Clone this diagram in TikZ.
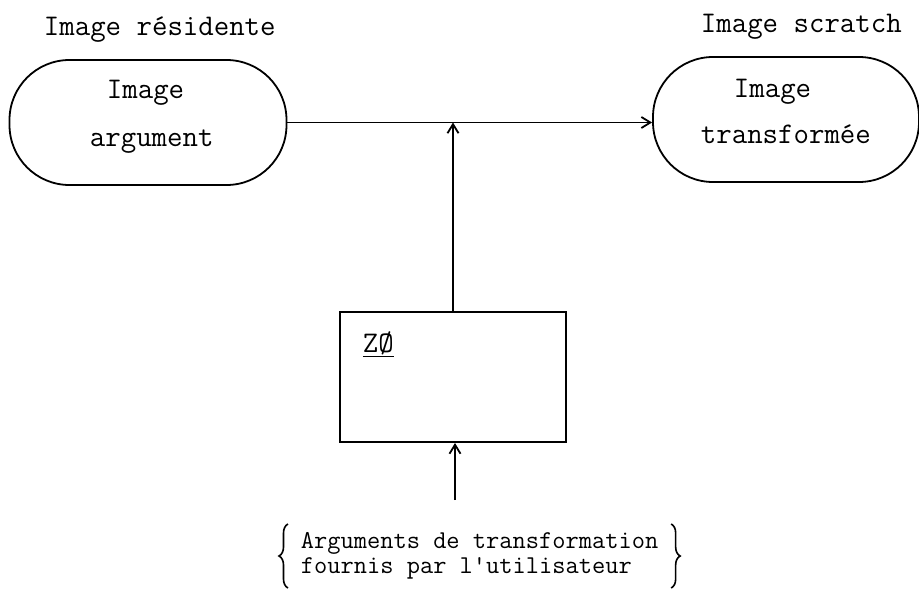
\documentclass[tikz,border=0pt]{standalone}
\usepackage{fontspec}
\usetikzlibrary{arrows.meta,decorations.pathreplacing}
\begin{document}
\begin{tikzpicture}[x=1pt,y=-1pt,line width=1.8pt,
  >={Straight Barb[length=9pt,width=11pt]},
  stadium/.style={draw, rounded corners=60pt, minimum height=125pt, inner sep=0pt},
  txt/.style={anchor=base west, inner sep=0pt, font=\ttfamily\fontsize{30}{34}\selectfont},
  smalltxt/.style={txt, font=\ttfamily\fontsize{25.7}{30}\selectfont},
  bracket/.style={decorate, decoration={brace, amplitude=9pt}, line width=1.6pt}]
  \useasboundingbox (0,0) rectangle (919,589);
  % the two images
  \node[stadium, minimum width=277pt] (arg) at (148,122.5) {};
  \node[stadium, minimum width=266pt] (res) at (786,119.5) {};
  \node[txt] (argtitle) at (43,35) {Image résidente};
  \node[txt] (argtop) at (106,98) {Image};
  \node[txt] (argbot) at (89,146) {argument};
  \node[txt] (restitle) at (700,32) {Image scratch};
  \node[txt] (restop) at (733,97) {Image};
  \node[txt] (resbot) at (700,143) {transformée};
  % operator box
  \node[draw, line width=2pt, minimum width=226pt, minimum height=130pt] (op) at (453,377) {};
  \node[txt] (opname) at (362,352) {\underline{ZØ}};
  % user arguments
  \node[smalltxt] (user1) at (300,548) {Arguments de transformation};
  \node[smalltxt] (user2) at (300,573) {fournis par l'utilisateur};
  \coordinate (src) at (455,500);
  \draw[bracket] (288,588) -- (288,524);
  \draw[bracket] ([xshift=12pt]user1.east |- 0,524) -- ([xshift=12pt]user1.east |- 0,588);
  % connectors
  \draw[->] (arg.east) -- (arg.east -| res.west);
  \draw[->] (op.north) -- (op.north |- arg.east);
  \draw[->] (src) -- (src |- op.south);
\end{tikzpicture}
\end{document}
